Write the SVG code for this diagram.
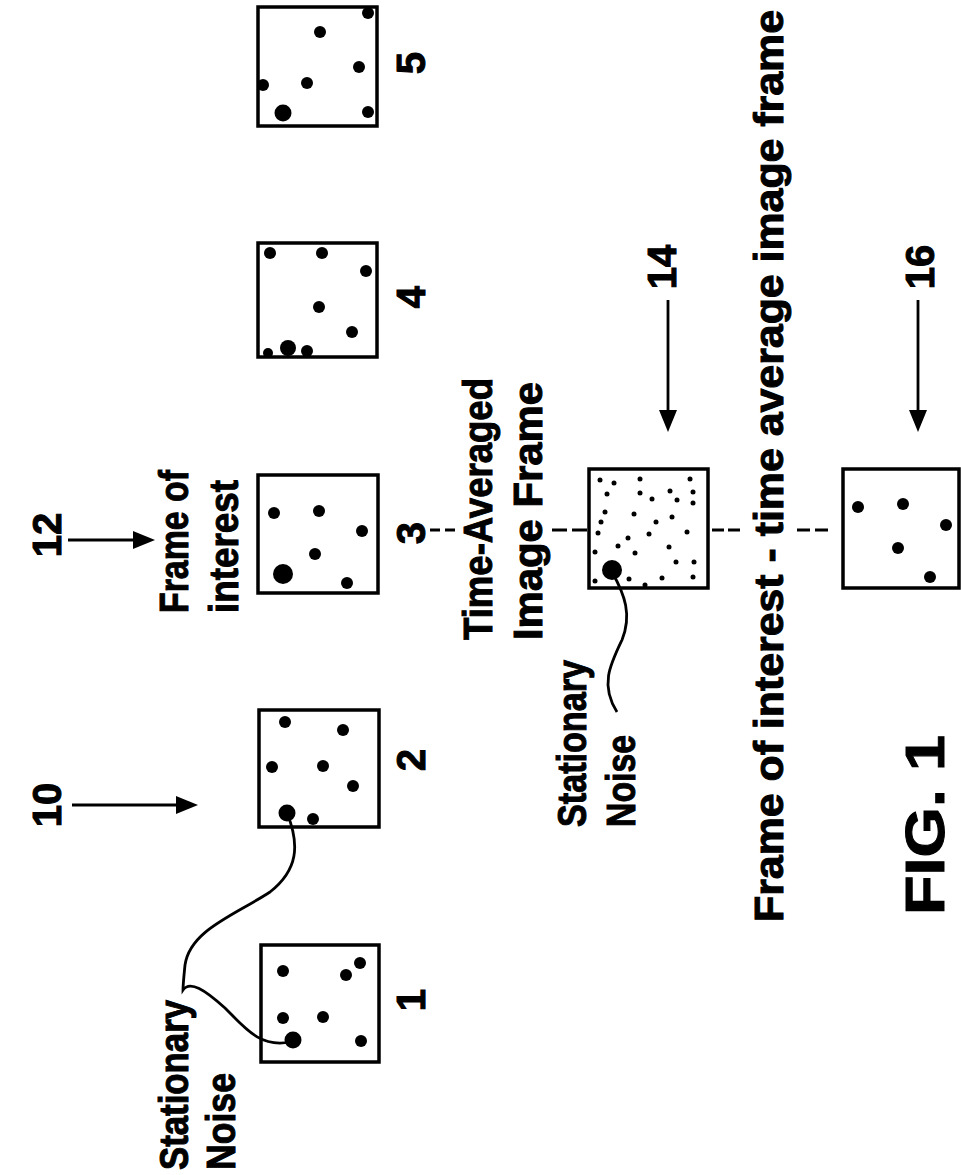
<svg xmlns="http://www.w3.org/2000/svg" width="961" height="1175" viewBox="0 0 961 1175">
<style>
.box{fill:#fff;stroke:#000;stroke-width:3.5}
.d{fill:#000}
.t{font-family:"Liberation Sans",Arial,sans-serif;font-weight:bold;font-size:40px;fill:#000;stroke:#000;stroke-width:1}
.ln{fill:none;stroke:#000;stroke-width:2.8}
.dash{fill:none;stroke:#000;stroke-width:3}
</style>
<rect width="961" height="1175" fill="#fff"/>
<g id="frame5">
<rect class="box" x="258" y="7" width="119" height="119"/>
<circle class="d" cx="368" cy="13" r="6"/><circle class="d" cx="320" cy="32" r="6"/><circle class="d" cx="359" cy="67" r="6"/><circle class="d" cx="263" cy="85" r="6"/><circle class="d" cx="307" cy="83" r="6"/><circle class="d" cx="283" cy="113" r="8.5"/><circle class="d" cx="368" cy="112" r="6"/>
<text class="t" text-anchor="middle" transform="translate(425 63) rotate(-90)">5</text>
</g>
<g id="frame4">
<rect class="box" x="258" y="243" width="119" height="114"/>
<circle class="d" cx="270" cy="253" r="6"/><circle class="d" cx="322" cy="253" r="6"/><circle class="d" cx="366" cy="271" r="6"/><circle class="d" cx="319" cy="307" r="6"/><circle class="d" cx="352" cy="332" r="6"/><circle class="d" cx="268" cy="353" r="5"/><circle class="d" cx="288" cy="348" r="8"/><circle class="d" cx="307" cy="351" r="6"/>
<text class="t" text-anchor="middle" transform="translate(425 297) rotate(-90)">4</text>
</g>
<g id="frame3">
<rect class="box" x="258" y="475" width="120" height="118"/>
<circle class="d" cx="274" cy="513" r="6"/><circle class="d" cx="319" cy="511" r="6"/><circle class="d" cx="362" cy="531" r="6"/><circle class="d" cx="315" cy="554" r="6"/><circle class="d" cx="283" cy="574" r="10"/><circle class="d" cx="347" cy="583" r="6"/>
<text class="t" text-anchor="middle" transform="translate(425 533) rotate(-90)">3</text>
</g>
<g id="frame2">
<rect class="box" x="259" y="710" width="120" height="117"/>
<circle class="d" cx="285" cy="722" r="6"/><circle class="d" cx="343" cy="730" r="6"/><circle class="d" cx="272" cy="767" r="6"/><circle class="d" cx="323" cy="766" r="6"/><circle class="d" cx="353" cy="786" r="6"/><circle class="d" cx="287" cy="813" r="8.5"/><circle class="d" cx="313" cy="819" r="6"/>
<text class="t" text-anchor="middle" transform="translate(425 760) rotate(-90)">2</text>
</g>
<g id="frame1">
<rect class="box" x="261" y="945" width="118" height="117"/>
<circle class="d" cx="283" cy="971" r="6"/><circle class="d" cx="346" cy="975" r="6"/><circle class="d" cx="360" cy="963" r="6"/><circle class="d" cx="283" cy="1018" r="6"/><circle class="d" cx="323" cy="1017" r="6"/><circle class="d" cx="293" cy="1040" r="8.5"/><circle class="d" cx="361" cy="1041" r="6"/>
<text class="t" text-anchor="middle" transform="translate(425 1000) rotate(-90)">1</text>
</g>
<g id="frame14">
<rect class="box" x="589" y="469" width="119" height="119"/>
<g class="d">
<circle cx="600" cy="480" r="2.5"/><circle cx="614" cy="483" r="2.5"/><circle cx="640" cy="479" r="2.5"/><circle cx="690" cy="479" r="2.5"/><circle cx="607" cy="494" r="2.5"/><circle cx="640" cy="493" r="2.5"/><circle cx="670" cy="491" r="2.5"/><circle cx="693" cy="492" r="2.5"/><circle cx="652" cy="499" r="2.5"/><circle cx="677" cy="500" r="2.5"/><circle cx="693" cy="503" r="2.5"/><circle cx="605" cy="512" r="2.5"/><circle cx="634" cy="514" r="2.5"/><circle cx="672" cy="517" r="2.5"/><circle cx="601" cy="522" r="2.5"/><circle cx="656" cy="522" r="2.5"/><circle cx="598" cy="533" r="2.5"/><circle cx="649" cy="534" r="2.5"/><circle cx="687" cy="532" r="2.5"/><circle cx="628" cy="538" r="2.5"/><circle cx="618" cy="546" r="2.5"/><circle cx="669" cy="547" r="2.5"/><circle cx="595" cy="552" r="2.5"/><circle cx="635" cy="553" r="2.5"/><circle cx="676" cy="562" r="2.5"/><circle cx="694" cy="562" r="2.5"/><circle cx="629" cy="579" r="2.5"/><circle cx="662" cy="578" r="2.5"/><circle cx="693" cy="577" r="2.5"/><circle cx="595" cy="581" r="2.5"/><circle cx="645" cy="585" r="2.5"/>
<circle cx="612" cy="570" r="10"/>
</g>
</g>
<g id="frame16">
<rect class="box" x="843" y="469" width="116" height="119"/>
<circle class="d" cx="858" cy="507" r="6"/><circle class="d" cx="903" cy="504" r="6"/><circle class="d" cx="946" cy="525" r="6"/><circle class="d" cx="898" cy="548" r="6"/><circle class="d" cx="930" cy="577" r="6"/>
</g>
<g id="labels">
<text class="t" transform="translate(188 1170) rotate(-90)" textLength="170" lengthAdjust="spacingAndGlyphs">Stationary</text>
<text class="t" transform="translate(235 1170) rotate(-90)" textLength="97" lengthAdjust="spacingAndGlyphs">Noise</text>
<text class="t" transform="translate(188 613) rotate(-90)" textLength="143" lengthAdjust="spacingAndGlyphs">Frame of</text>
<text class="t" transform="translate(238 613) rotate(-90)" textLength="133" lengthAdjust="spacingAndGlyphs">interest</text>
<text class="t" transform="translate(492 640) rotate(-90)" textLength="262" lengthAdjust="spacingAndGlyphs">Time-Averaged</text>
<text class="t" transform="translate(542 640) rotate(-90)" textLength="258" lengthAdjust="spacingAndGlyphs">Image Frame</text>
<text class="t" transform="translate(586 827) rotate(-90)" textLength="167" lengthAdjust="spacingAndGlyphs">Stationary</text>
<text class="t" transform="translate(635 827) rotate(-90)" textLength="92" lengthAdjust="spacingAndGlyphs">Noise</text>
<text class="t" transform="translate(783 922) rotate(-90)" textLength="912" lengthAdjust="spacingAndGlyphs">Frame of interest - time average image frame</text>
<text class="t" text-anchor="middle" transform="translate(61 535) rotate(-90)">12</text>
<text class="t" text-anchor="middle" transform="translate(61 805) rotate(-90)">10</text>
<text class="t" text-anchor="middle" transform="translate(676 267) rotate(-90)">14</text>
<text class="t" text-anchor="middle" transform="translate(934 267) rotate(-90)">16</text>
<text class="t" style="font-size:56px" transform="translate(944 915) rotate(-90)" textLength="180" lengthAdjust="spacingAndGlyphs">FIG. 1</text>
</g>
<g id="connectors">
<path class="ln" d="M287 813 C300 845 298 870 270 892 C235 915 190 930 185 965 C184 975 183 985 183 990 C190 980 205 990 225 1008 C245 1028 260 1048 290 1042"/>
<path class="ln" d="M612 572 C625 595 632 615 622 640 C610 665 600 685 617 712"/>
<line class="ln" x1="68" y1="540" x2="135" y2="540"/><polygon points="133,531 155,540 133,549"/>
<line class="ln" x1="72" y1="805" x2="178" y2="805"/><polygon points="176,796 198,805 176,814"/>
<line class="ln" x1="668" y1="300" x2="668" y2="412"/><polygon points="659,410 668,432 677,410"/>
<line class="ln" x1="918" y1="300" x2="918" y2="412"/><polygon points="909,410 918,432 927,410"/>
<line class="dash" x1="430" y1="530" x2="455" y2="530" stroke-dasharray="10 5"/>
<line class="dash" x1="552" y1="530" x2="588" y2="530" stroke-dasharray="15 5"/>
<line class="dash" x1="712" y1="530" x2="740" y2="530" stroke-dasharray="12 4"/>
<line class="dash" x1="797" y1="530" x2="833" y2="530" stroke-dasharray="13 5"/>
</g>
</svg>
